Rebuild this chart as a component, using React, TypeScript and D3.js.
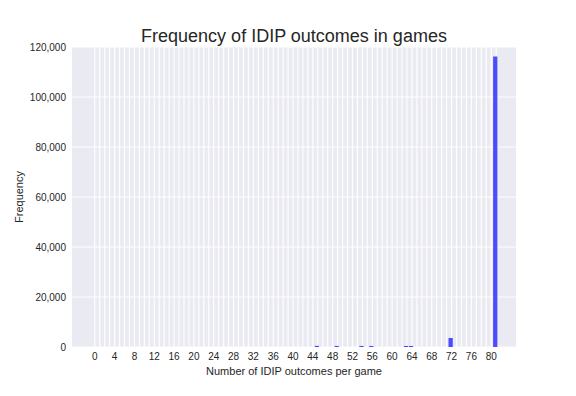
import React, { useEffect, useRef } from "react";
import * as d3 from "d3";

// outcome counts
const outcomeValues = [45, 49, 54, 56, 63, 64, 72, 81];
const outcomeCounts = [450, 420, 420, 420, 420, 420, 3600, 116200];
const xTickValues = d3.range(0, 81, 4);
const gridValues = d3.range(0, 82);
const yTickValues = [0, 20000, 40000, 60000, 80000, 100000, 120000];

const App = () => {
  const ref = useRef<SVGSVGElement>(null);

  useEffect(() => {
    const svg = d3.select(ref.current);
    svg.selectAll("*").remove();

    const W = 576;
    const H = 396;
    const margin = { top: 47, right: 60, bottom: 49, left: 72 };
    const width = W - margin.left - margin.right;
    const height = H - margin.top - margin.bottom;
    const font = "'Liberation Sans', Arial, sans-serif";

    const x = d3.scaleLinear().domain([-4.6, 85.0]).range([0, width]);
    const y = d3.scaleLinear().domain([0, 120000]).range([height, 0]);

    const g = svg.append("g").attr("transform", `translate(${margin.left},${margin.top})`);

    // axes background
    g.append("rect").attr("width", width).attr("height", height).attr("fill", "#eaeaf2");

    // horizontal grid
    g.append("g")
      .selectAll("line")
      .data(yTickValues)
      .join("line")
      .attr("x1", 0)
      .attr("x2", width)
      .attr("y1", (d) => y(d))
      .attr("y2", (d) => y(d))
      .attr("stroke", "white")
      .attr("stroke-width", 1);

    // vertical grid at every integer
    g.append("g")
      .selectAll("line")
      .data(gridValues)
      .join("line")
      .attr("x1", (d) => x(d))
      .attr("x2", (d) => x(d))
      .attr("y1", 0)
      .attr("y2", height)
      .attr("stroke", "white")
      .attr("stroke-width", 1.1);

    // bars
    const data = outcomeValues.map((v, i) => ({ v, c: outcomeCounts[i] }));
    g.append("g")
      .selectAll("rect")
      .data(data)
      .join("rect")
      .attr("x", (d) => x(d.v - 0.62))
      .attr("width", x(0.86) - x(0))
      .attr("y", (d) => y(d.c))
      .attr("height", (d) => height - y(d.c))
      .attr("fill", "#4c4cff");

    // x tick labels
    g.append("g")
      .selectAll("text")
      .data(xTickValues)
      .join("text")
      .attr("x", (d) => x(d))
      .attr("y", height + 13)
      .attr("text-anchor", "middle")
      .style("font-family", font)
      .style("font-size", "10px")
      .attr("fill", "#262626")
      .text((d) => d);

    // y tick labels
    const fmt = d3.format(",");
    g.append("g")
      .selectAll("text")
      .data(yTickValues)
      .join("text")
      .attr("x", -6)
      .attr("y", (d) => y(d))
      .attr("dy", "0.35em")
      .attr("text-anchor", "end")
      .style("font-family", font)
      .style("font-size", "10px")
      .attr("fill", "#262626")
      .text((d) => fmt(d));

    // title
    svg.append("text")
      .attr("x", margin.left + width / 2)
      .attr("y", 42)
      .attr("text-anchor", "middle")
      .style("font-family", font)
      .style("font-size", "18px")
      .attr("fill", "#262626")
      .text("Frequency of IDIP outcomes in games");

    // x axis title
    svg.append("text")
      .attr("x", margin.left + width / 2)
      .attr("y", 375)
      .attr("text-anchor", "middle")
      .style("font-family", font)
      .style("font-size", "11px")
      .attr("fill", "#262626")
      .text("Number of IDIP outcomes per game");

    // y axis title
    svg.append("text")
      .attr("transform", `translate(23,${margin.top + height / 2}) rotate(-90)`)
      .attr("text-anchor", "middle")
      .style("font-family", font)
      .style("font-size", "11px")
      .attr("fill", "#262626")
      .text("Frequency");
  }, []);

  return (
    <svg
      ref={ref}
      width={576}
      height={396}
      style={{ position: "absolute", left: 0, top: 0, background: "white" }}
    />
  );
};

export default App;
